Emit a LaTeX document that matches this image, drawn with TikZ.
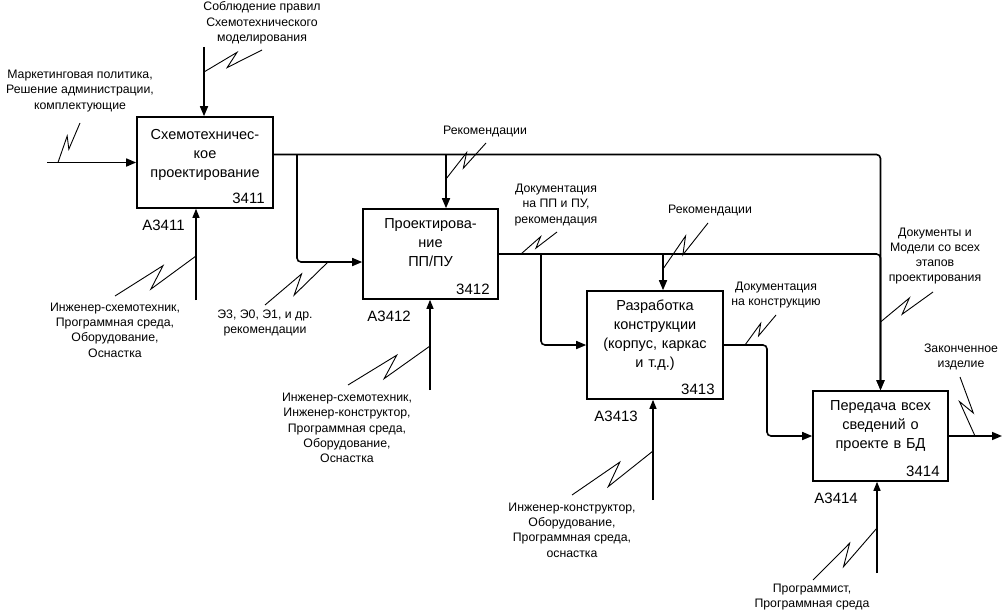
\documentclass[tikz,border=0pt]{standalone}
\usepackage{fontspec}
\setmainfont{Liberation Sans}
\usetikzlibrary{arrows.meta,calc,positioning}

% squiggle from a connector to its label
\newcommand{\zigzag}[2]{\draw[zig] (#1) -- ($(#1)!0.62!10:(#2)$) -- ($(#1)!0.38!-10:(#2)$) -- (#2);}

\begin{document}
\begin{tikzpicture}[x=1pt, y=-1pt,
    func/.style={rectangle, draw, line width=1.6pt, minimum width=135pt, minimum height=90pt, inner sep=0pt},
    ftext/.style={anchor=north, text width=130pt, align=center, inner sep=0pt, font=\fontsize{14.5}{19}\selectfont},
    fnum/.style={anchor=south east, inner sep=0pt, font=\fontsize{15}{17}\selectfont},
    fid/.style={anchor=north west, inner sep=0pt, font=\fontsize{15}{17}\selectfont},
    lbl/.style={align=center, inner sep=0pt, font=\fontsize{12.3}{15.3}\selectfont},
    arr/.style={-{Triangle[length=10pt,width=8pt]}, line width=1.6pt, rounded corners=4pt},
    mech/.style={-{Triangle[length=9pt,width=7pt]}, line width=1.2pt},
    zig/.style={line width=0.9pt}]
    \useasboundingbox (0,0) rectangle (1008,615);

    \node (b1) [func, minimum width=136pt, minimum height=91pt] at (205,162.5) {};
    \node (b2) [func] at (430.5,254) {};
    \node (b3) [func, minimum width=136pt, minimum height=108pt] at (655,345) {};
    \node (b4) [func] at (880.5,436) {};

    \node (t1) [ftext] at ([yshift=-12.5pt]b1.north) {Схемотехничес-\\кое\\проектирование};
    \node (t2) [ftext] at ([yshift=-10.5pt]b2.north) {Проектирова-\\ние\\ПП/ПУ};
    \node (t3) [ftext] at ([yshift=-9.5pt]b3.north) {Разработка\\конструкции\\(корпус, каркас\\и т.д.)};
    \node (t4) [ftext] at ([yshift=-10.5pt]b4.north) {Передача всех\\сведений о\\проекте в БД};

    \node (n1) [fnum] at ([xshift=-9pt, yshift=4.5pt]b1.south east) {3411};
    \node (n2) [fnum] at ([xshift=-9pt, yshift=4.5pt]b2.south east) {3412};
    \node (n3) [fnum] at ([xshift=-9pt, yshift=4.5pt]b3.south east) {3413};
    \node (n4) [fnum] at ([xshift=-9pt, yshift=4.5pt]b4.south east) {3414};

    \node (a1) [fid] at ([xshift=6pt, yshift=-11pt]b1.south west) {A3411};
    \node (a2) [fid] at ([xshift=5pt, yshift=-11pt]b2.south west) {A3412};
    \node (a3) [fid] at ([xshift=8pt, yshift=-11pt]b3.south west) {A3413};
    \node (a4) [fid] at ([xshift=2pt, yshift=-11pt]b4.south west) {A3414};

    % labels
    \node (l1) [lbl] at (80,91) {Маркетинговая политика,\\Решение администрации,\\комплектующие};
    \node (l2) [lbl] at (262,23) {Соблюдение правил\\Схемотехнического\\моделирования};
    \node (l3) [lbl] at (115,330) {Инженер-схемотехник,\\Программная среда,\\Оборудование,\\Оснастка};
    \node (l4) [lbl] at (265,323) {Э3, Э0, Э1, и др.\\рекомендации};
    \node (l5) [lbl] at (485,131) {Рекомендации};
    \node (l6) [lbl] at (556,205) {Документация\\на ПП и ПУ,\\рекомендация};
    \node (l7) [lbl] at (710,210) {Рекомендации};
    \node (l8) [lbl] at (776,295) {Документация\\на конструкцию};
    \node (l9) [lbl] at (935,256) {Документы и\\Модели со всех\\этапов\\проектирования};
    \node (l10) [lbl] at (961,357) {Законченное\\изделие};
    \node (l11) [lbl] at (347,428) {Инженер-схемотехник,\\Инженер-конструктор,\\Программная среда,\\Оборудование,\\Оснастка};
    \node (l12) [lbl] at (572,530) {Инженер-конструктор,\\Оборудование,\\Программная среда,\\оснастка};
    \node (l13) [lbl] at (812,597) {Программист,\\Программная среда};

    % free ends and branch points
    \coordinate (in1) at (47,162.5);
    \coordinate (c1) at (204,47);
    \coordinate (m1) at (196,300);
    \coordinate (m2) at (430,390);
    \coordinate (m3) at (653,500);
    \coordinate (m4) at (877,573);
    \coordinate (j1) at (297,154.5);
    \coordinate (j2) at (446,154.5);
    \coordinate (j3) at (541,254);
    \coordinate (j4) at (663,254);
    \coordinate (j5) at (767,345);
    \coordinate (out4) at (1002,436);

    \draw[arr] (in1) -- (b1.west);
    \draw[arr] (c1) -- (c1 |- b1.north);
    \draw[mech] (m1) -- (m1 |- b1.south);
    \draw[arr] ([yshift=8pt]b1.east) -| (b4.north);
    \draw[arr] (j1) |- ([yshift=-8pt]b2.west);
    \draw[arr] (j2) -- (j2 |- b2.north);
    \draw[arr] (b2.east) -| (b4.north);
    \draw[arr] (j3) |- (b3.west);
    \draw[arr] (j4) -- (j4 |- b3.north);
    \draw[arr] (b3.east) -- (j5) |- (b4.west);
    \draw[arr] (b4.east) -- (out4);
    \draw[mech] (m2) -- (m2 |- b2.south);
    \draw[mech] (m3) -- (m3 |- b3.south);
    \draw[mech] (m4) -- (m4 |- b4.south);

    % squiggles
    \coordinate (z1a) at (58,162.5);  \coordinate (z1b) at (80,123);
    \coordinate (z2a) at (204,72);    \coordinate (z2b) at (262,50);
    \coordinate (z3a) at (196,256);   \coordinate (z3b) at (115,296);
    \coordinate (z4a) at (328,262);   \coordinate (z4b) at (265,305);
    \coordinate (z5a) at (446,179);   \coordinate (z5b) at (486,143);
    \coordinate (z6a) at (521,254);   \coordinate (z6b) at (557,232);
    \coordinate (z7a) at (663,269);   \coordinate (z7b) at (708,223);
    \coordinate (z8a) at (745,345);   \coordinate (z8b) at (776,315);
    \coordinate (z9a) at (880.5,322); \coordinate (z9b) at (933,292);
    \coordinate (z10a) at (975,436);  \coordinate (z10b) at (960,377);
    \coordinate (z11a) at (430,346);  \coordinate (z11b) at (348,385);
    \coordinate (z12a) at (653,451);  \coordinate (z12b) at (572,495);
    \coordinate (z13a) at (877,528);  \coordinate (z13b) at (813,580);
    \zigzag{z1a}{z1b}
    \zigzag{z2a}{z2b}
    \zigzag{z3a}{z3b}
    \zigzag{z4a}{z4b}
    \zigzag{z5a}{z5b}
    \zigzag{z6a}{z6b}
    \zigzag{z7a}{z7b}
    \zigzag{z8a}{z8b}
    \zigzag{z9a}{z9b}
    \zigzag{z10a}{z10b}
    \zigzag{z11a}{z11b}
    \zigzag{z12a}{z12b}
    \zigzag{z13a}{z13b}
\end{tikzpicture}
\end{document}
